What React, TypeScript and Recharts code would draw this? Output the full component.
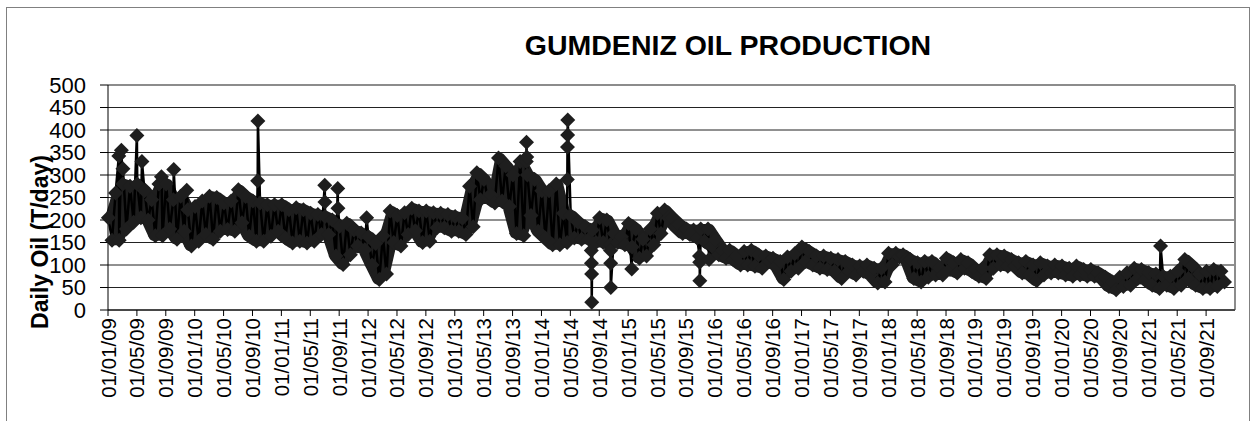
import { ComposedChart, Line, Area, XAxis, YAxis, CartesianGrid, ReferenceLine } from 'recharts'

// month index 0 = Jan 2009; two readings per month (upper / lower edge of the daily scatter)
const monthlyHigh = [
  205, 260, 280, 275, 280, 265, 245, 280, 280, 245, 253, 223, // 2009
  230, 242, 253, 250, 238, 242, 267, 252, 242, 238, 234, 234, // 2010
  234, 223, 227, 223, 215, 212, 208, 200, 186, 193, 178, 171, // 2011
  163, 148, 165, 220, 210, 216, 226, 220, 220, 216, 215, 212, // 2012
  208, 204, 275, 305, 290, 255, 338, 320, 300, 330, 300, 290, // 2013
  265, 265, 280, 215, 210, 195, 185, 178, 205, 200, 170, 163, // 2014
  192, 180, 157, 180, 215, 222, 205, 190, 180, 178, 180, 180, // 2015
  156, 133, 133, 120, 130, 133, 122, 120, 115, 108, 118, 125, // 2016
  140, 130, 120, 120, 115, 112, 108, 100, 98, 100, 93, 93, // 2017
  126, 126, 123, 112, 105, 108, 108, 93, 115, 105, 112, 105, // 2018
  90, 93, 123, 123, 120, 112, 105, 108, 100, 105, 98, 100, // 2019
  98, 93, 98, 90, 90, 83, 73, 62, 73, 83, 93, 90, // 2020
  83, 80, 75, 75, 86, 112, 98, 80, 86, 90, 86 // 2021
]

const monthlyLow = [
  155, 155, 180, 195, 205, 200, 165, 165, 180, 157, 175, 142, // 2009
  153, 168, 157, 175, 179, 175, 194, 164, 153, 153, 164, 175, // 2010
  160, 149, 153, 149, 153, 168, 168, 120, 101, 123, 142, 134, // 2011
  100, 68, 80, 150, 142, 168, 176, 150, 153, 183, 183, 175, // 2012
  175, 168, 185, 245, 250, 238, 242, 230, 170, 165, 210, 175, // 2013
  160, 145, 145, 150, 160, 157, 157, 150, 150, 145, 150, 145, // 2014
  140, 115, 120, 145, 170, 205, 185, 170, 168, 160, 153, 142, // 2015
  123, 115, 112, 100, 100, 97, 93, 108, 97, 68, 86, 93, // 2016
  108, 100, 93, 90, 86, 70, 86, 78, 86, 78, 60, 62, // 2017
  100, 118, 112, 70, 62, 73, 78, 78, 90, 82, 93, 86, // 2018
  75, 70, 93, 100, 97, 97, 82, 78, 65, 78, 82, 82, // 2019
  78, 75, 78, 75, 75, 70, 52, 45, 52, 55, 70, 67, // 2020
  55, 48, 55, 48, 55, 70, 55, 48, 48, 52, 62 // 2021
]

// single-day outliers: [month position, T/day]
const spikes = [
  [1.5, 342], [1.85, 355], [2.07, 314], [4.0, 388], [4.7, 330], [7.4, 296],
  [9.1, 312], [10.9, 266], [20.72, 287], [20.75, 420], [30.0, 277], [30.03, 240],
  [31.8, 270], [31.83, 226], [35.8, 205], [57.9, 330], [57.93, 373], [57.96, 340],
  [63.58, 290], [63.6, 362], [63.62, 389], [63.64, 422], [66.9, 132], [66.92, 104],
  [66.94, 80], [66.96, 17], [69.56, 132], [69.58, 104], [69.6, 50], [72.5, 91],
  [81.88, 120], [81.9, 106], [81.92, 65], [83.2, 112], [145.7, 142]
]

const tickLabels = [
  '01/01/09', '01/05/09', '01/09/09', '01/01/10', '01/05/10', '01/09/10',
  '01/01/11', '01/05/11', '01/09/11', '01/01/12', '01/05/12', '01/09/12',
  '01/01/13', '01/05/13', '01/09/13', '01/01/14', '01/05/14', '01/09/14',
  '01/01/15', '01/05/15', '01/09/15', '01/01/16', '01/05/16', '01/09/16',
  '01/01/17', '01/05/17', '01/09/17', '01/01/18', '01/05/18', '01/09/18',
  '01/01/19', '01/05/19', '01/09/19', '01/01/20', '01/05/20', '01/09/20',
  '01/01/21', '01/05/21', '01/09/21'
]

const yTicks = [0, 50, 100, 150, 200, 250, 300, 350, 400, 450, 500]

const points: { t: number; v: number }[] = []
monthlyHigh.forEach((h, i) => {
  points.push({ t: i + 0.05, v: h })
  points.push({ t: i + 0.55, v: monthlyLow[i] })
})
spikes.forEach(([t, v]) => points.push({ t, v }))
points.sort((a, b) => a.t - b.t)

// band between the monthly readings, so the dense daily scatter reads as solid
const band = monthlyHigh.map((h, i) => ({ t: i + 0.3, range: [monthlyLow[i], h] }))

const FONT = 'Arial, "Liberation Sans", sans-serif'
const INK = '#1e1e1e'

const Diamond = (props: any) => {
  const { cx, cy, index } = props
  if (cx == null || cy == null) return <g key={`d${index}`} />
  const r = 7.5
  return (
    <path
      key={`d${index}`}
      d={`M${cx},${cy - r}L${cx + r},${cy}L${cx},${cy + r}L${cx - r},${cy}Z`}
      fill={INK}
    />
  )
}

const XTick = (props: any) => {
  const { x, y, payload } = props
  const label = tickLabels[Math.round(payload.value / 4)]
  return (
    <text
      x={x}
      y={y}
      transform={`rotate(-90, ${x}, ${y})`}
      textAnchor="end"
      dominantBaseline="central"
      fontSize={20.5}
      fontFamily={FONT}
      fill="#000"
    >
      {label}
    </text>
  )
}

const App = () => {
  return (
    <div style={{ position: 'absolute', left: 0, top: 0, width: 1253, height: 421, overflow: 'hidden', background: '#fff' }}>
      <div style={{ position: 'absolute', left: 6, top: 7, width: 1242, height: 430, border: '1px solid #808080' }} />
      <div style={{ position: 'absolute', left: 0, top: 0 }}>
        <ComposedChart width={1253} height={421} margin={{ top: 85, right: 18, bottom: 0, left: 0 }}>
          <CartesianGrid vertical={false} stroke="#222" strokeWidth={1} />
          <XAxis
            dataKey="t"
            type="number"
            domain={[0, 156]}
            ticks={tickLabels.map((_, i) => i * 4)}
            interval={0}
            height={111}
            tick={<XTick />}
            tickSize={6}
            tickMargin={2}
            axisLine={{ stroke: '#000' }}
            tickLine={{ stroke: '#000' }}
            allowDuplicatedCategory={false}
          />
          <YAxis
            type="number"
            domain={[0, 500]}
            ticks={yTicks}
            interval={0}
            width={108}
            tickSize={8}
            tickMargin={14}
            axisLine={{ stroke: '#000' }}
            tickLine={{ stroke: '#000' }}
            tick={{ fontSize: 22, fontFamily: FONT, fill: '#000' }}
          />
          <ReferenceLine y={500} stroke="#8c8c8c" strokeWidth={2} />
          <ReferenceLine x={156} stroke="#8c8c8c" strokeWidth={2} />
          <Area
            data={band}
            dataKey="range"
            type="linear"
            stroke={INK}
            strokeWidth={10}
            strokeLinejoin="round"
            fill={INK}
            fillOpacity={1}
            dot={false}
            activeDot={false}
            isAnimationActive={false}
          />
          <Line
            data={points}
            dataKey="v"
            type="linear"
            stroke="#000"
            strokeWidth={2.5}
            dot={Diamond}
            activeDot={false}
            isAnimationActive={false}
          />
        </ComposedChart>
      </div>
      <svg width={1253} height={421} style={{ position: 'absolute', left: 0, top: 0, pointerEvents: 'none' }}>
        <text x={728} y={55} textAnchor="middle" fontSize={28.5} fontWeight="bold" fontFamily={FONT} fill="#000">
          GUMDENIZ OIL PRODUCTION
        </text>
        <text
          x={48}
          y={242}
          transform="rotate(-90, 48, 242)"
          textAnchor="middle"
          fontSize={23}
          fontWeight="bold"
          fontFamily={FONT}
          fill="#000"
        >
          Daily Oil (T/day)
        </text>
      </svg>
    </div>
  )
}

export default App
